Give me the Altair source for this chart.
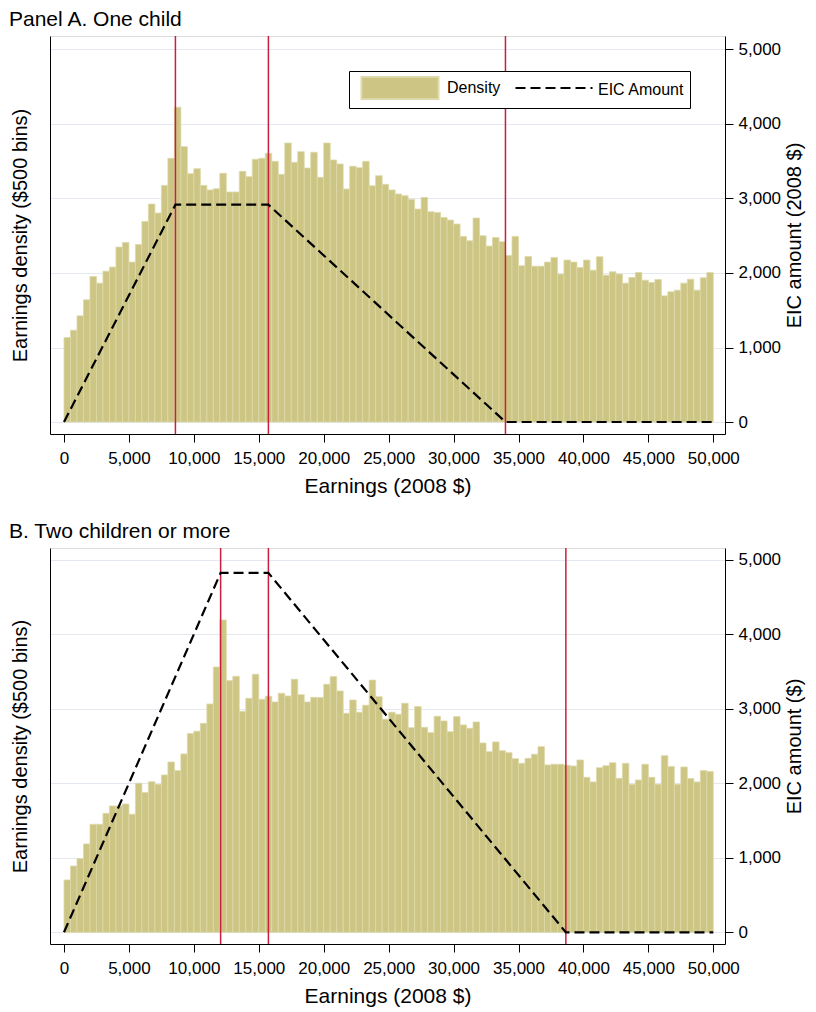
import altair as alt
import pandas as pd

FONT = "Liberation Sans"
KHAKI = "#cdc583"
KHAKI_EDGE = "#ddd9aa"
RED = "#c8203c"
GRID = "#e3e8f1"

BIN = 500
x_ticks = list(range(0, 50001, 5000))
y_ticks = [0, 1000, 2000, 3000, 4000, 5000]

density_a = [1133, 1232, 1425, 1640, 1953, 1864, 2025, 2079, 2348, 2410,
             2146, 2383, 2692, 2925, 2804, 3176, 3539, 4225, 3696, 3333,
             3400, 3176, 3114, 3131, 3338, 3087, 3087, 3364, 3293, 3526,
             3539, 3606, 3499, 3324, 3745, 3485, 3629, 3409, 3620, 3284,
             3745, 3517, 3463, 3127, 3432, 3414, 3499, 3170, 3306, 3190,
             3114, 3060, 3037, 2988, 2858, 3015, 2822, 2813, 2746, 2710,
             2657, 2491, 2433, 2737, 2500, 2361, 2477, 2419, 2236, 2491,
             2097, 2222, 2092, 2092, 2146, 2209, 1985, 2173, 2146, 2074,
             2173, 2038, 2218, 1971, 2016, 1985, 1864, 1940, 2007, 1904,
             1873, 1913, 1693, 1747, 1770, 1864, 1917, 1770, 1935, 2007]

density_b = [702, 890, 989, 1186, 1450, 1450, 1597, 1696, 1696, 1722,
             1584, 2000, 1875, 2022, 1986, 2112, 2286, 2170, 2394, 2667,
             2698, 2805, 3065, 3561, 4192, 3378, 3436, 2966, 3141, 3463,
             3127, 3168, 3092, 3208, 3172, 3396, 3190, 3092, 3154, 3150,
             3329, 3432, 3239, 2939, 3118, 2953, 3047, 3385, 3163, 2859,
             2953, 2926, 3074, 2747, 3029, 2751, 2680, 2899, 2837, 2693,
             2895, 2783, 2738, 2823, 2541, 2425, 2555, 2438, 2411, 2331,
             2268, 2335, 2389, 2492, 2246, 2255, 2255, 2241, 2232, 2313,
             2080, 2018, 2210, 2237, 2277, 2067, 2268, 1986, 2045, 2255,
             2080, 1986, 2371, 2224, 1986, 2219, 2063, 2018, 2170, 2157]

eic_earn_a = [0, 8580, 15740, 33995, 50000]
eic_amt_a = [0, 2917, 2917, 0, 0]
eic_earn_b = [0, 12060, 15740, 38646, 50000]
eic_amt_b = [0, 4824, 4824, 0, 0]
kinks_a = [8580, 15740, 33995]
kinks_b = [12060, 15740, 38646]

RECT_PATH = "M-3.5,-1H3.5V1H-3.5Z"
LINE_PATH = "M-3.5,0H3.5"

fill_scale = alt.Scale(domain=["Density"], range=[KHAKI])
dash_scale = alt.Scale(domain=["EIC Amount"], range=[[10, 5]])


def fill_legend(lx, ly):
    # boxed legend: swatch + "Density"; its title shows "EIC Amount" to the
    # right, leaving room for the dashed-line symbol of the second legend
    return alt.Legend(
        orient="none", legendX=lx, legendY=ly, direction="horizontal",
        title="EIC Amount", titleOrient="right", titlePadding=98,
        titleAnchor="middle", titleBaseline="middle",
        titleFontSize=16, titleFont=FONT, titleFontWeight="normal",
        titleColor="black",
        strokeColor="black", fillColor="white", padding=5,
        symbolType=RECT_PATH, symbolSize=484, symbolStrokeWidth=2,
        symbolStrokeColor=KHAKI_EDGE, symbolFillColor=KHAKI, symbolOpacity=1,
        symbolOffset=34, labelOffset=35,
        labelFontSize=16, labelFont=FONT, labelColor="black", labelLimit=400,
        zindex=0,
    )


def dash_legend(lx, ly):
    return alt.Legend(
        orient="none", legendX=lx, legendY=ly, direction="horizontal",
        title=None, padding=5, labelExpr="''",
        symbolType=LINE_PATH, symbolSize=484, symbolStrokeWidth=2,
        symbolStrokeColor="black", symbolOpacity=1,
        symbolOffset=34, labelOffset=35,
        labelFontSize=16, labelFont=FONT, labelColor="black",
        zindex=1,
    )


def panel(dens, earn, amt, kinks, title, ydom, height, right_title, lx, ly):
    bars_df = pd.DataFrame({
        "lo": [i * BIN for i in range(len(dens))],
        "hi": [(i + 1) * BIN for i in range(len(dens))],
        "density": dens,
        "series": ["Density"] * len(dens),
    })
    eic_df = pd.DataFrame({"earn": earn, "amt": amt,
                           "series": ["EIC Amount"] * len(earn)})
    kink_df = pd.DataFrame({"k": kinks})
    xscale = alt.Scale(domain=[-1078, 50901], nice=False, zero=False)
    xtitle = "Earnings (2008 $)"
    xaxis = alt.Axis(values=x_ticks, format=",.0f", tickSize=8, labelFontSize=17,
                     labelPadding=8, titleFontSize=21, titlePadding=9, grid=False,
                     domainColor="black", tickColor="black", labelColor="black",
                     titleColor="black", titleFontWeight="normal", labelFont=FONT,
                     titleFont=FONT)

    bars = alt.Chart(bars_df).mark_bar(stroke=KHAKI_EDGE, strokeWidth=0.8).encode(
        x=alt.X("lo:Q", scale=xscale, axis=xaxis, title=xtitle),
        x2="hi:Q",
        y=alt.Y("density:Q",
                scale=alt.Scale(domain=ydom, nice=False, zero=False),
                title="Earnings density ($500 bins)",
                axis=alt.Axis(orient="left", labels=False, ticks=False, grid=True,
                              values=y_ticks, gridColor=GRID, gridWidth=1,
                              domainColor="black", titleFontSize=20,
                              titleFontWeight="normal", titleColor="black",
                              titleFont=FONT, titlePadding=20)),
        y2=alt.Y2Datum(0),
        fill=alt.Fill("series:N", scale=fill_scale, legend=fill_legend(lx, ly)),
    )
    rules = alt.Chart(kink_df).mark_rule(color=RED, strokeWidth=1.5).encode(
        x=alt.X("k:Q", scale=xscale, title=xtitle),
    )
    line = alt.Chart(eic_df).mark_line(color="black", strokeWidth=2.2).encode(
        x=alt.X("earn:Q", scale=xscale, title=xtitle),
        y=alt.Y("amt:Q",
                scale=alt.Scale(domain=ydom, nice=False, zero=False),
                title=right_title,
                axis=alt.Axis(orient="right", values=y_ticks, format=",.0f",
                              tickSize=8, grid=False, labelFontSize=17,
                              labelPadding=5, titleFontSize=20, titleAngle=270,
                              titleBaseline="top", titlePadding=4,
                              domainColor="black",
                              tickColor="black", labelColor="black",
                              titleColor="black", titleFontWeight="normal",
                              labelFont=FONT, titleFont=FONT)),
        strokeDash=alt.StrokeDash("series:N", scale=dash_scale,
                                  legend=dash_legend(lx + 154, ly)),
    )
    return alt.layer(bars, rules, line).resolve_scale(y="independent").properties(
        width=675, height=height,
        title=alt.Title(title, anchor="start", frame="group", dx=-41, offset=5,
                        fontSize=21, fontWeight="normal", font=FONT, color="black"),
    )


pa = panel(density_a, eic_earn_a, eic_amt_a, kinks_a, "Panel A. One child",
           [-161, 5181], 398, "EIC amount (2008 $)", 299, 35)
pb = panel(density_b, eic_earn_b, eic_amt_b, kinks_b, "B. Two children or more",
           [-157, 5158], 396, "EIC amount ($)", 294, 32)

chart = alt.vconcat(pa, pb, spacing=23).properties(
    padding={"left": 0, "top": 0, "right": 0, "bottom": 0}
).configure_view(stroke=None).configure(font=FONT)

chart.save("out.html", embed_options={"renderer": "svg", "actions": False})
